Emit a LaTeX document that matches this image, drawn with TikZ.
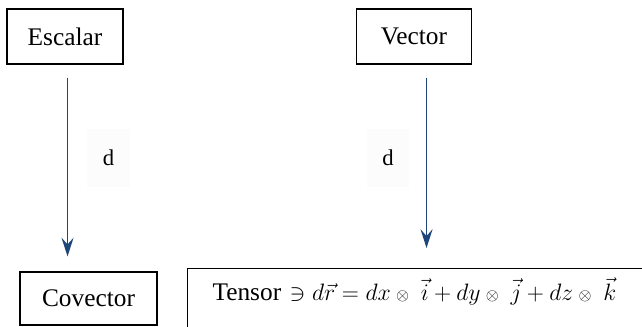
\RequirePackage{fix-cm}
\documentclass[tikz,border=0pt]{standalone}
\usepackage{fontspec}
\setmainfont{Liberation Serif}
\usetikzlibrary{arrows.meta}
\definecolor{azulflecha}{RGB}{30,70,122}
\tikzset{
  caja/.style={draw, line width=0.9pt, inner sep=0pt, font=\fontsize{19}{22}\selectfont},
  flecha/.style={azulflecha, line width=1.2pt, -{Stealth[length=14pt,width=9pt,inset=5pt]}},
  etiq/.style={fill=black!1, inner sep=0pt, minimum width=32pt, minimum height=43pt, font=\fontsize{17}{20}\selectfont}
}
\begin{document}
\begin{tikzpicture}[x=0.75pt,y=-0.75pt]
    \useasboundingbox (0,0) rectangle (642,326);
    \clip (0,0) rectangle (642,326);
    \node[caja, minimum width=87pt, minimum height=41.25pt] (escalar) at (65,36.5) {Escalar};
    \node[caja, minimum width=86.6pt, minimum height=41.25pt] (vector) at (414,36.5) {Vector};
    \node[caja, minimum width=102.75pt, minimum height=39.75pt] (covector) at (88.5,298.5) {Covector};
    \node[caja, anchor=north west, inner xsep=18.75pt, inner ysep=9pt, text width=317pt, text height=15pt, text depth=21pt, align=left] (tensor) at (187,268)
      {Tensor {\fontsize{17.8}{21}\selectfont$\ni d\vec{r} = dx\mathbin{\scriptstyle\otimes}\;\vec{i} + dy\mathbin{\scriptstyle\otimes}\;\vec{j} + dz\mathbin{\scriptstyle\otimes}\;\vec{k}$}};
    \node[etiq] (d1) at (108.5,158) {d};
    \node[etiq] (d2) at (388,158) {d};
    \draw[flecha, shorten <=9.75pt, shorten >=11.25pt] ([xshift=1.9pt]escalar.south) -- ([xshift=1.9pt]escalar.south |- covector.north);
    \draw[flecha, shorten <=9.75pt, shorten >=15pt] ([xshift=9.4pt]vector.south) -- ([xshift=9.4pt]vector.south |- tensor.north);
\end{tikzpicture}
\end{document}
